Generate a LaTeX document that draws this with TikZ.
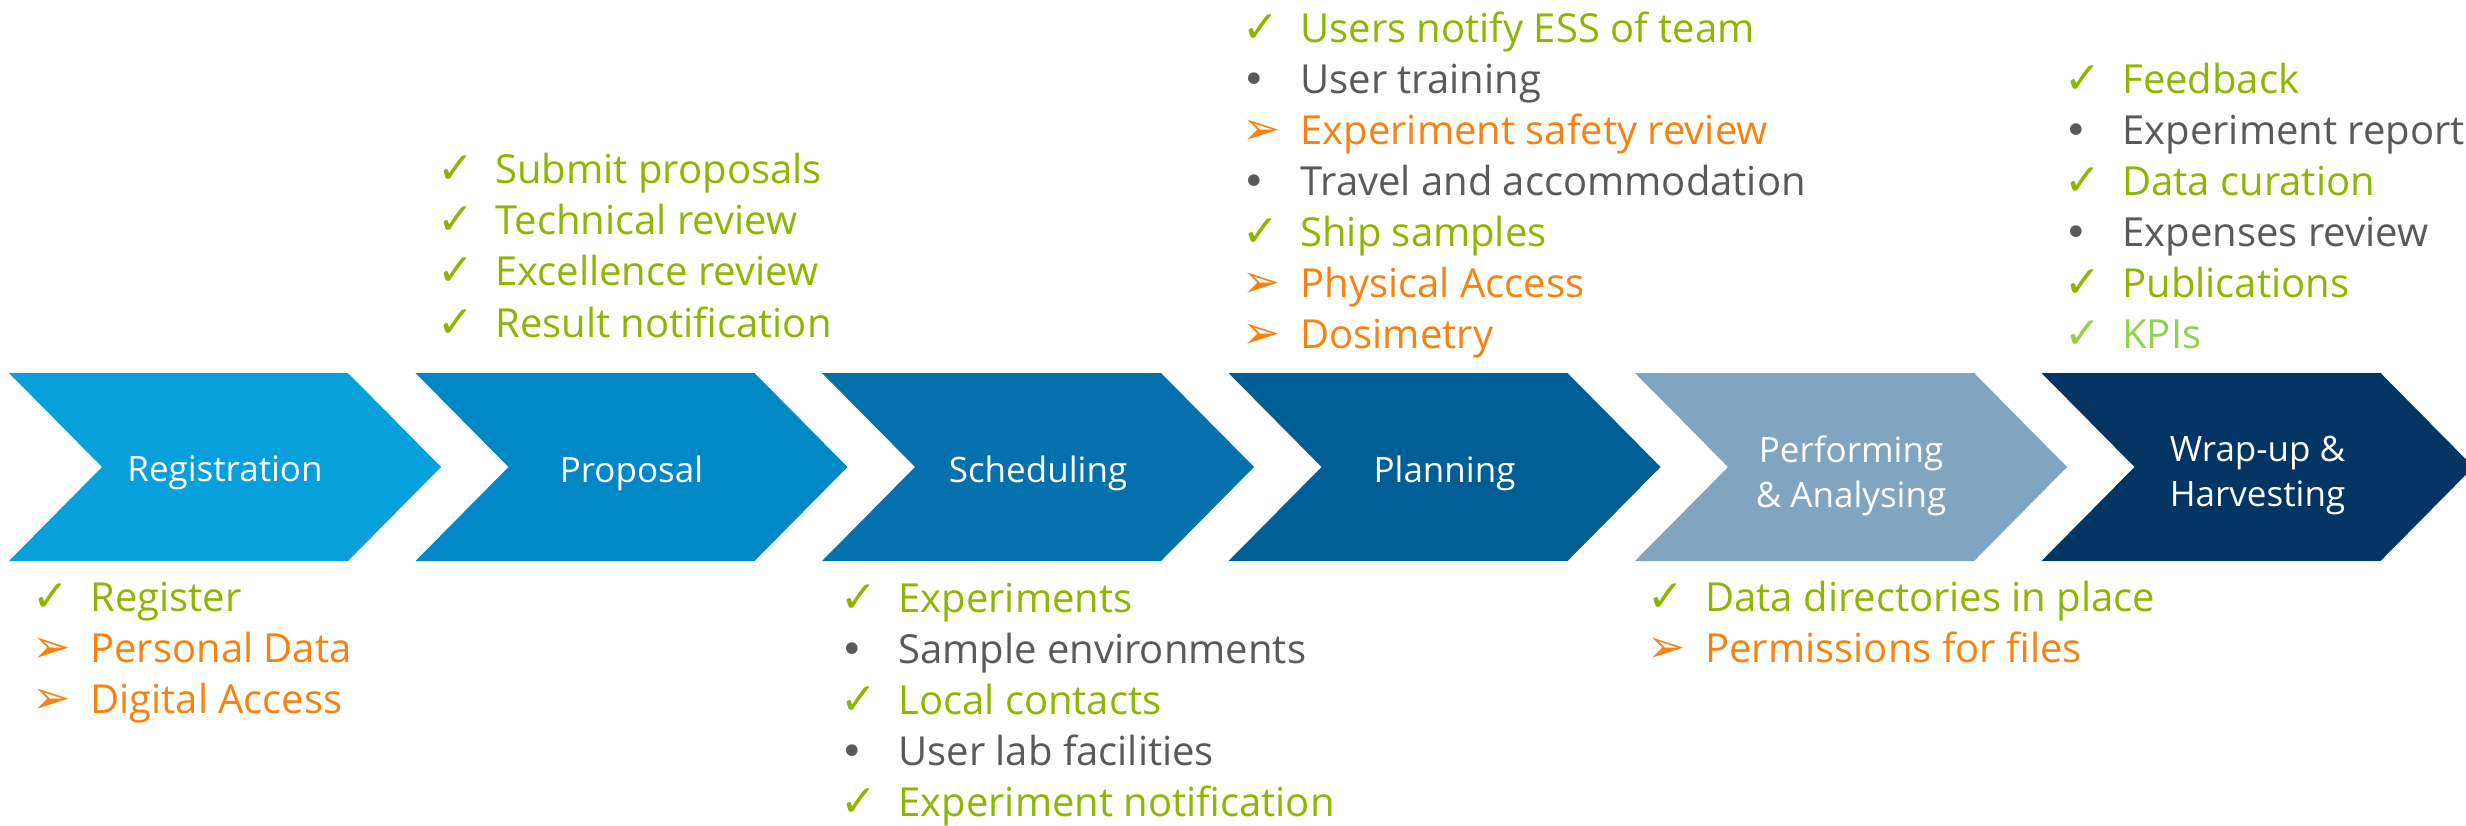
\documentclass[tikz,border=0pt]{standalone}
\usepackage{fontspec}
\setmainfont{Open Sans}
\newfontfamily\symfont{DejaVu Sans}
\usepackage{xcolor}
\usetikzlibrary{calc}

\definecolor{regblue}{HTML}{07A0DC}
\definecolor{propblue}{HTML}{0088C6}
\definecolor{schedblue}{HTML}{0471AC}
\definecolor{planblue}{HTML}{005E97}
\definecolor{perfblue}{HTML}{80A5C0}
\definecolor{wrapblue}{HTML}{023563}
\definecolor{okgreen}{HTML}{8CB600}
\definecolor{kpigreen}{HTML}{92D050}
\definecolor{todoorange}{HTML}{F7820F}
\definecolor{infogray}{HTML}{595959}

\begin{document}
\begin{tikzpicture}[x=0.5pt,y=-0.5pt
                    ]
                % define styles
\tikzset{steplabel/.style={text=white,
                           font=\fontsize{17.5}{22.5}\selectfont,
                           align=center,
                           inner sep=0,
                           },
         item/.style={anchor=base west,
                      inner sep=0,
                      font=\fontsize{20}{25}\selectfont,
                      },
         done/.style={item,
                      text=okgreen,
                      execute at begin node={\makebox[29pt][l]{\symfont\fontsize{22}{25}\selectfont ✓}},
                      },
         info/.style={item,
                      text=infogray,
                      execute at begin node={\makebox[29pt][l]{\symfont •}},
                      },
         todo/.style={item,
                      text=todoorange,
                      execute at begin node={\makebox[29pt][l]{\symfont\fontsize{23}{25}\selectfont ➢}},
                      },
         kpi/.style={done,
                     text=kpigreen,
                     }
}

\clip (0,0) rectangle (2466,825);

% chevrons
\foreach \name/\col/\ly/\txt [count=\i from 0] in {reg/regblue/473/Registration,
                                                   prop/propblue/473/Proposal,
                                                   sched/schedblue/473/Scheduling,
                                                   plan/planblue/473/Planning,
                                                   perf/perfblue/476/{Performing\\\& Analysing},
                                                   wrap/wrapblue/476/{Wrap-up \&\\Harvesting}}
{
    \fill[\col] (9+406.5*\i,373) -- ++(339,0) -- ++(93,94) -- ++(-93,94)
                -- ++(-339,0) -- ++(93,-94) -- cycle;
    \node[steplabel] (\name) at (225+406.5*\i,\ly) {\txt};
}

% lists below the chevrons
\foreach \kind/\txt [count=\j] in {done/Register, todo/Personal Data, todo/Digital Access}
    \node[\kind] (reg-\j) at (32,560+51.3*\j) {\txt};

\foreach \kind/\txt [count=\j] in {done/Experiments, info/Sample environments,
                                   done/Local contacts, info/User lab facilities,
                                   done/Experiment notification}
    \node[\kind] (sched-\j) at (840,561+51*\j) {\txt};

\foreach \kind/\txt [count=\j] in {done/Data directories in place, todo/Permissions for files}
    \node[\kind] (perf-\j) at (1647,560+51*\j) {\txt};

% lists above the chevrons
\foreach \kind/\txt [count=\j] in {done/Submit proposals, done/Technical review,
                                   done/Excellence review, done/Result notification}
    \node[\kind] (prop-\j) at (437,132+51.3*\j) {\txt};

\foreach \kind/\txt [count=\j] in {done/Users notify ESS of team, info/User training,
                                   todo/Experiment safety review, info/Travel and accommodation,
                                   done/Ship samples, todo/Physical Access, todo/Dosimetry}
    \node[\kind] (plan-\j) at (1242,-9+51*\j) {\txt};

\foreach \kind/\txt [count=\j] in {done/Feedback, info/Experiment report, done/Data curation,
                                   info/Expenses review, done/Publications, kpi/KPIs}
    \node[\kind] (wrap-\j) at (2064,42+51*\j) {\txt};

\end{tikzpicture}
\end{document}
